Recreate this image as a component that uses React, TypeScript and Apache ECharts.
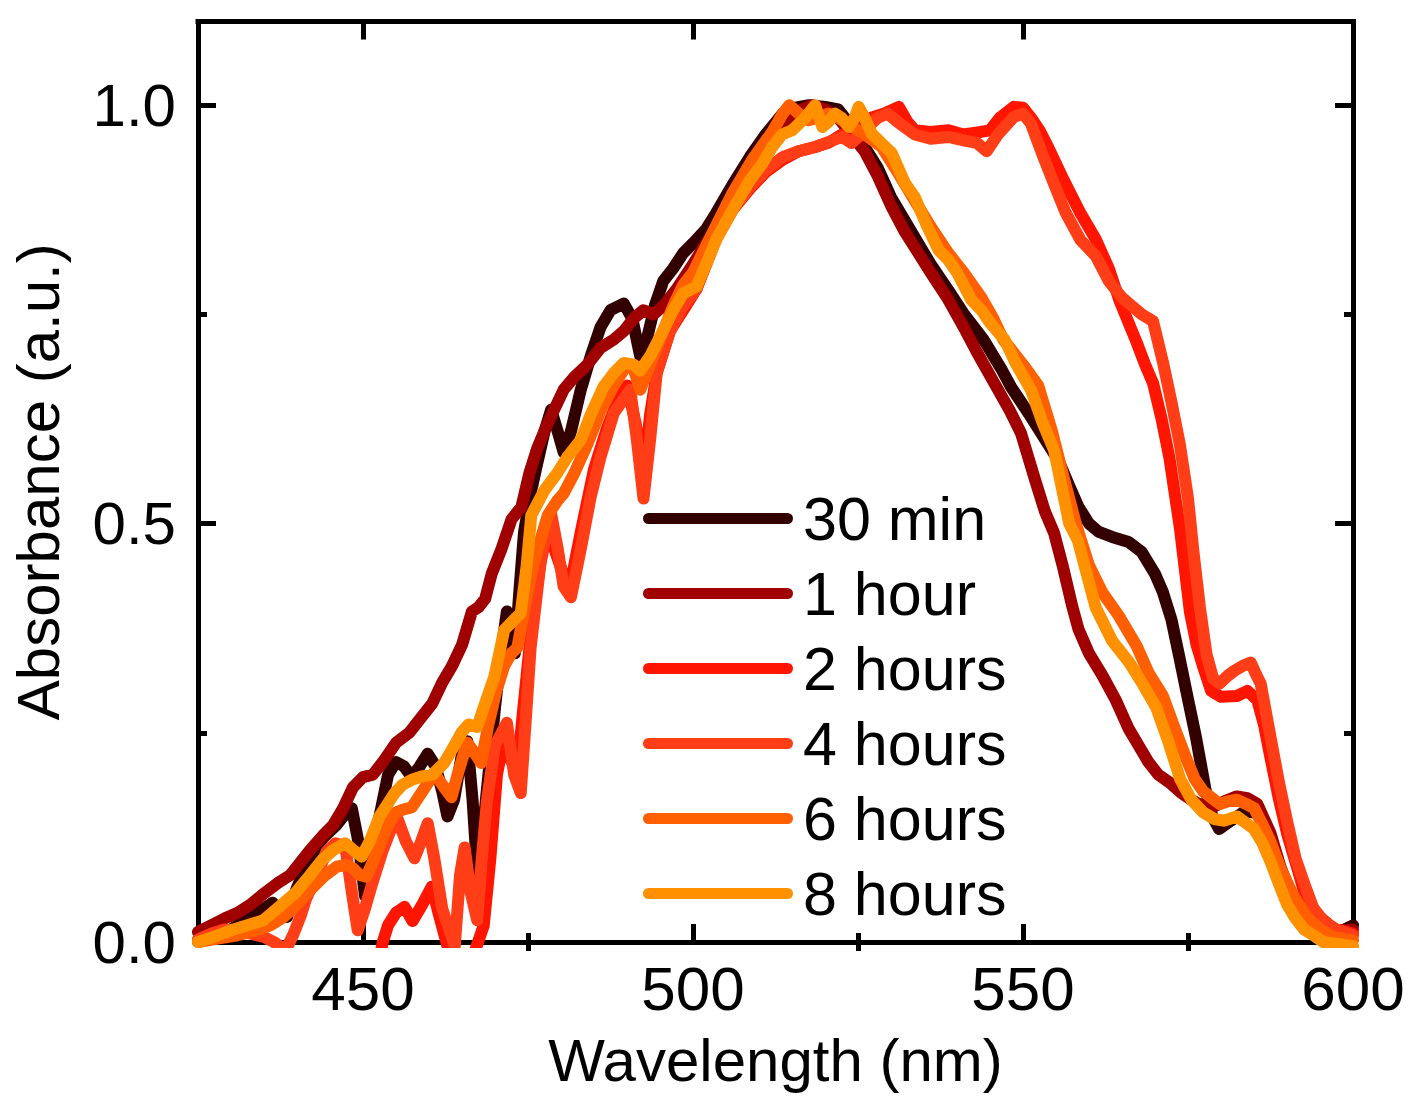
import React, { useEffect, useRef } from "react";
import * as echarts from "echarts";

const seriesNames = ["30 min", "1 hour", "2 hours", "4 hours", "6 hours", "8 hours"];
const seriesColors = ["#330000", "#A00000", "#FF1500", "#FF3D17", "#FF5F00", "#FF9100"];

const xTickValues = [450, 500, 550, 600];
const xMinorValues = [475, 525, 575];
const yTickValues = [0, 0.5, 1.0];
const yMinorValues = [0.25, 0.75];

// 30 min
const wl30 = [425, 427, 429, 431, 433, 435, 436.3, 437.5, 438.5, 440, 442, 444, 446, 447.5, 448.3, 449.3, 450.3, 451.3, 452.5, 453.8, 455, 456.2, 457.4, 458.6, 459.8, 461, 462, 462.8, 463.8, 465, 465.8, 466.6, 467.3, 468, 469, 470, 471, 471.8, 472.4, 473, 473.7, 474.4, 475.5, 476.4, 477.5, 478.5, 479.5, 480.4, 481.5, 483, 484.5, 486, 487.5, 489.5, 490.8, 492, 493, 494.2, 495.5, 497, 498.5, 500, 502, 503.5, 506, 508.6, 511, 513.6, 515.5, 517.6, 520, 522, 524, 526, 528, 530, 533, 536, 539, 541, 544, 546.7, 548.2, 551, 553, 555.4, 557, 558.4, 560, 561.5, 563.5, 566, 568, 570, 571.2, 572.5, 573.6, 575, 576.2, 577.7, 578.7, 579.7, 581.5, 583.4, 585, 586, 587, 588, 590, 592, 594, 596, 598, 600];
const abs30 = [0.0, 0.005, 0.01, 0.02, 0.03, 0.04, 0.047, 0.035, 0.03, 0.065, 0.1, 0.125, 0.14, 0.155, 0.16, 0.12, 0.055, 0.09, 0.15, 0.2, 0.215, 0.21, 0.197, 0.21, 0.225, 0.21, 0.18, 0.15, 0.17, 0.225, 0.24, 0.17, 0.085, 0.12, 0.2, 0.28, 0.35, 0.395, 0.38, 0.345, 0.42, 0.49, 0.54, 0.572, 0.61, 0.636, 0.61, 0.585, 0.61, 0.66, 0.7, 0.735, 0.755, 0.763, 0.745, 0.7, 0.72, 0.76, 0.79, 0.805, 0.823, 0.835, 0.852, 0.871, 0.905, 0.938, 0.965, 0.99, 0.997, 1.0, 0.998, 0.995, 0.975, 0.95, 0.925, 0.89, 0.85, 0.81, 0.775, 0.751, 0.72, 0.685, 0.663, 0.63, 0.605, 0.575, 0.545, 0.52, 0.5, 0.49, 0.484, 0.478, 0.466, 0.44, 0.418, 0.385, 0.344, 0.29, 0.245, 0.18, 0.15, 0.135, 0.145, 0.155, 0.155, 0.15, 0.13, 0.105, 0.06, 0.03, 0.015, 0.012, 0.012, 0.02];

// 1 hour
const wl1h = [425, 427, 429, 431, 433, 435, 437, 439, 440.5, 442, 444, 445.5, 447, 448.5, 450, 451.5, 453, 455, 457, 459, 460.5, 462, 463.5, 465, 466.5, 467.5, 468.5, 469.5, 471, 472.5, 474, 475.2, 476.4, 478, 480.4, 482, 484, 486, 488, 489.5, 491, 492.5, 494, 495.5, 497.5, 500, 502, 504, 506, 508, 510, 512, 514, 516, 518, 520, 522, 524, 526, 528, 530, 532, 534, 536, 538.5, 541, 543, 545.5, 548, 549.7, 551.8, 553.3, 554.7, 556, 557.5, 558.4, 560, 562, 564, 566, 567.2, 569, 570.5, 572.3, 574, 575.5, 577.3, 579, 580.5, 582.4, 584, 585.5, 587.5, 589, 591, 593, 595, 597, 600];
const abs1h = [0.012, 0.02, 0.028, 0.035, 0.045, 0.058, 0.07, 0.08, 0.095, 0.11, 0.128, 0.14, 0.16, 0.185, 0.197, 0.2, 0.215, 0.238, 0.25, 0.27, 0.285, 0.31, 0.33, 0.355, 0.395, 0.4, 0.41, 0.44, 0.47, 0.505, 0.52, 0.56, 0.59, 0.62, 0.66, 0.675, 0.69, 0.71, 0.72, 0.73, 0.745, 0.755, 0.75, 0.76, 0.78, 0.81, 0.835, 0.86, 0.885, 0.91, 0.935, 0.96, 0.98, 0.993, 1.0, 0.995, 0.985, 0.965, 0.945, 0.915, 0.88, 0.85, 0.825, 0.8, 0.77, 0.735, 0.705, 0.67, 0.635, 0.608, 0.553, 0.515, 0.489, 0.45, 0.4, 0.374, 0.345, 0.319, 0.29, 0.255, 0.239, 0.215, 0.2, 0.19, 0.178, 0.17, 0.162, 0.162, 0.168, 0.174, 0.172, 0.165, 0.13, 0.09, 0.05, 0.025, 0.015, 0.014, 0.015];

// 2 hours
const wl2h = [425, 445, 452, 453, 453.8, 455, 456.3, 457.5, 459, 460.4, 461.6, 462.8, 464, 465.5, 467, 468.3, 469.3, 470.3, 471.3, 472.3, 473.3, 474.3, 475.5, 476.8, 477.9, 479, 480.3, 481.5, 483, 485, 487, 488.5, 490, 491.3, 492.5, 493.5, 494.5, 496.5, 498.5, 500.5, 502, 503.5, 506, 508.6, 511, 513.6, 516, 518.5, 520.5, 522.6, 524, 525.5, 527, 529, 531.2, 532.5, 533.6, 536, 538.7, 541, 543.6, 545, 546.5, 548.6, 550, 551.2, 552.5, 553.8, 556.2, 558.7, 561, 563, 564.6, 566, 567.2, 568.5, 569.7, 571, 572.2, 573.8, 575.3, 576.3, 577.3, 578.5, 580, 582.4, 584, 585.5, 586.5, 587.5, 588.8, 590, 591.5, 592.6, 594, 595, 597, 600];
const abs2h = [-0.05, -0.05, -0.04, 0.0, 0.02, 0.035, 0.042, 0.025, 0.045, 0.066, 0.03, -0.005, -0.04, -0.04, -0.01, 0.02, 0.1, 0.2, 0.24, 0.22, 0.2, 0.28, 0.373, 0.45, 0.49, 0.47, 0.44, 0.43, 0.49, 0.565, 0.615, 0.645, 0.665, 0.62, 0.56, 0.63, 0.68, 0.73, 0.755, 0.78, 0.81, 0.84, 0.875, 0.9, 0.92, 0.935, 0.945, 0.95, 0.955, 0.965, 0.958, 0.975, 0.985, 0.99, 0.998, 0.98, 0.97, 0.968, 0.97, 0.965, 0.968, 0.97, 0.985, 0.998, 0.997, 0.985, 0.97, 0.95, 0.91, 0.871, 0.84, 0.805, 0.767, 0.74, 0.717, 0.69, 0.668, 0.625, 0.578, 0.493, 0.394, 0.355, 0.329, 0.3, 0.293, 0.294, 0.3, 0.289, 0.26, 0.22, 0.17, 0.13, 0.09, 0.06, 0.04, 0.03, 0.016, 0.01];

// 4 hours
const wl4h = [425, 427, 429, 431, 433, 435, 436.5, 438.3, 439.5, 440.5, 441.3, 443, 444.5, 445.8, 447.3, 448.3, 449.2, 450.3, 451.4, 453, 454.5, 455.3, 456.5, 457.8, 458.8, 459.8, 460.8, 462, 463.9, 464.7, 465.4, 466.3, 467.3, 468, 468.8, 470, 471.8, 472.9, 473.9, 474.7, 475.4, 477, 478.5, 479.5, 480.4, 481.5, 483, 484.5, 486, 488, 490.5, 491.5, 492.5, 493.5, 494.5, 496.5, 498.5, 500.5, 503.5, 506, 508.6, 511, 513.6, 516, 518.5, 520.5, 522.6, 524, 525.5, 526.6, 528, 529.5, 531, 533.6, 536, 538.7, 541, 543, 544.5, 546.2, 548.6, 550, 551.2, 553, 554.5, 556.5, 558.7, 561, 563, 565, 566.5, 568, 569.7, 571.2, 572.5, 573.8, 575, 575.8, 576.8, 577.8, 578.8, 579.8, 581, 582, 583.3, 584.5, 585.3, 586, 587.5, 588.8, 590, 591.3, 592.6, 594, 595.5, 597.5, 600];
const abs4h = [0.003, 0.01, 0.015, 0.012, 0.01, 0.006, 0.0, -0.01, 0.01, 0.03, 0.05, 0.08, 0.108, 0.118, 0.115, 0.06, 0.014, 0.04, 0.07, 0.11, 0.14, 0.146, 0.12, 0.1, 0.12, 0.142, 0.1, 0.04, -0.005, 0.08, 0.113, 0.06, 0.026, 0.1, 0.17, 0.235, 0.262, 0.2, 0.178, 0.27, 0.352, 0.46, 0.512, 0.47, 0.425, 0.412, 0.47, 0.532, 0.58, 0.632, 0.66, 0.6, 0.53, 0.6, 0.68, 0.73, 0.76, 0.78, 0.842, 0.875, 0.902, 0.922, 0.938, 0.945, 0.95, 0.956, 0.962, 0.955, 0.965, 0.975, 0.985, 0.99, 0.98, 0.965, 0.96, 0.962, 0.958, 0.955, 0.945, 0.965, 0.986, 0.99, 0.978, 0.94, 0.91, 0.871, 0.839, 0.82, 0.79, 0.77, 0.76, 0.75, 0.742, 0.693, 0.645, 0.593, 0.53, 0.468, 0.4, 0.344, 0.315, 0.309, 0.318, 0.324, 0.33, 0.334, 0.32, 0.309, 0.245, 0.19, 0.145, 0.1, 0.07, 0.04, 0.025, 0.015, 0.008];

// 6 hours
const wl6h = [425, 428, 431, 434, 436, 438, 440, 442, 444, 446, 447.5, 448.5, 449.5, 450.5, 452, 453.5, 454.8, 456, 457.4, 459, 460.8, 462, 463.4, 464.5, 465.8, 467, 467.9, 469, 470.2, 471.4, 472.5, 473.4, 474.5, 475.5, 476.5, 478, 479.5, 480.4, 482, 484, 486, 488, 490, 491, 492, 493.5, 495.5, 497, 498.5, 500, 503, 506, 509, 512, 513.6, 514.6, 516, 517.5, 519, 520.5, 522, 524, 526, 528.6, 531, 533.6, 536, 538.7, 541, 543.7, 545.5, 547, 550, 552.3, 554.4, 556, 558, 560, 562, 564.5, 567.2, 569, 571.2, 573, 574.7, 576, 577.3, 579.8, 581, 582.4, 583.8, 585, 586.3, 587.5, 589, 591, 593, 595, 597, 600];
const abs6h = [0.0, 0.004, 0.008, 0.014, 0.02, 0.03, 0.045, 0.062, 0.078, 0.09, 0.092, 0.088, 0.08, 0.078, 0.105, 0.135, 0.154, 0.158, 0.161, 0.18, 0.202, 0.188, 0.173, 0.205, 0.238, 0.225, 0.214, 0.26, 0.3, 0.33, 0.345, 0.352, 0.4, 0.44, 0.47, 0.51, 0.528, 0.536, 0.56, 0.595, 0.635, 0.665, 0.69, 0.685, 0.66, 0.69, 0.73, 0.76, 0.785, 0.8, 0.848, 0.895, 0.935, 0.968, 0.99, 1.0, 0.99, 0.982, 0.985, 0.99, 0.985, 0.975, 0.965, 0.95, 0.92, 0.886, 0.855, 0.823, 0.8, 0.77, 0.745, 0.72, 0.69, 0.665, 0.61, 0.56, 0.5, 0.45, 0.418, 0.39, 0.354, 0.322, 0.294, 0.255, 0.22, 0.195, 0.18, 0.165, 0.168, 0.17, 0.165, 0.16, 0.14, 0.12, 0.088, 0.055, 0.03, 0.015, 0.006, 0.002];

// 8 hours
const wl8h = [425, 427, 430, 432.5, 434.9, 437, 439.8, 442, 443.8, 445.5, 447.3, 448.5, 449.8, 451, 452.5, 454.8, 456, 457.4, 459, 460.5, 462.3, 463.5, 464.9, 466, 467.3, 468.5, 469.9, 471.4, 472.9, 473.9, 474.8, 475.5, 477.5, 479.4, 481, 483, 484.5, 486.4, 488, 489.5, 491, 492, 493.5, 495.5, 497, 498.5, 500.5, 502, 503.5, 506, 508.6, 510.5, 512, 513.5, 515, 517, 518.5, 519.6, 520.5, 521.5, 522.5, 523.6, 524.5, 525.1, 526, 527.1, 528.5, 530.1, 532.1, 533.6, 535.5, 537.2, 538.7, 540, 542.2, 543.7, 545, 547.2, 549, 551.2, 553, 554.7, 555.7, 557, 558.3, 561, 563.5, 566.1, 568, 570.2, 572, 573.8, 575.5, 577.3, 579, 580.4, 582.4, 583.8, 585, 586.3, 587.5, 589, 590, 591.3, 592.6, 594, 595.5, 600];
const abs8h = [0.0, 0.005, 0.014, 0.02, 0.026, 0.04, 0.059, 0.08, 0.098, 0.11, 0.118, 0.11, 0.102, 0.12, 0.15, 0.178, 0.188, 0.194, 0.198, 0.2, 0.214, 0.23, 0.25, 0.26, 0.257, 0.285, 0.317, 0.373, 0.385, 0.393, 0.45, 0.51, 0.54, 0.56, 0.58, 0.6, 0.63, 0.663, 0.68, 0.692, 0.69, 0.683, 0.7, 0.731, 0.755, 0.775, 0.783, 0.81, 0.839, 0.875, 0.91, 0.93, 0.95, 0.965, 0.97, 0.985, 1.0, 0.974, 0.98, 0.99, 0.985, 0.974, 0.985, 0.998, 0.985, 0.966, 0.955, 0.943, 0.907, 0.89, 0.855, 0.827, 0.815, 0.8, 0.767, 0.755, 0.74, 0.72, 0.69, 0.66, 0.62, 0.588, 0.55, 0.5, 0.48, 0.4, 0.36, 0.334, 0.31, 0.28, 0.24, 0.195, 0.17, 0.155, 0.147, 0.145, 0.15, 0.142, 0.135, 0.118, 0.096, 0.065, 0.045, 0.028, 0.015, 0.008, 0.0, -0.005];

const wavelengths = [wl30, wl1h, wl2h, wl4h, wl6h, wl8h];
const absorbances = [abs30, abs1h, abs2h, abs4h, abs6h, abs8h];

const FONT = "'Liberation Sans', Arial, Helvetica, sans-serif";
const AXIS_LINE = { show: true, onZero: false, lineStyle: { color: "#000", width: 5, cap: "square" } };
const TICK_STYLE = { color: "#000", width: 5 };

function zip(xs: number[], ys: number[]) {
  return xs.map((x, i) => [x, ys[i]]);
}

export default function App() {
  const ref = useRef<HTMLDivElement>(null);

  useEffect(() => {
    document.body.style.margin = "0";
    if (!ref.current) return;
    const chart = echarts.init(ref.current, undefined, { renderer: "svg" });

    const xBase = { type: "value", min: 425, max: 600, gridIndex: 0, splitLine: { show: false } };
    const yBase = { type: "value", min: 0, max: 1.1, gridIndex: 0, splitLine: { show: false } };

    const option: any = {
      animation: false,
      backgroundColor: "#fff",
      grid: { left: 193.5, right: 64, top: 21.5, bottom: 159, containLabel: false },
      legend: {
        orient: "vertical",
        left: 643,
        top: 488,
        padding: 0,
        itemWidth: 150,
        itemHeight: 11,
        itemGap: 14,
        selectedMode: false,
        icon: "path://M5.5,0 L144.5,0 A5.5,5.5 0 0 1 144.5,11 L5.5,11 A5.5,5.5 0 0 1 5.5,0 Z",
        itemStyle: { borderWidth: 0 },
        textStyle: { fontSize: 61, lineHeight: 60, color: "#000", fontFamily: FONT, padding: [0, 0, 0, 5] },
        data: seriesNames,
      },
      xAxis: [
        {
          ...xBase,
          position: "bottom",
          axisLine: AXIS_LINE,
          axisTick: { show: true, inside: true, length: 18, customValues: xTickValues, lineStyle: TICK_STYLE },
          axisLabel: {
            show: true,
            customValues: xTickValues,
            margin: 15,
            fontSize: 62,
            lineHeight: 62,
            color: "#000",
            fontFamily: FONT,
            formatter: (v: number) => String(v),
          },
          name: "Wavelength (nm)",
          nameLocation: "middle",
          nameGap: 88,
          nameTextStyle: { fontSize: 60, lineHeight: 60, color: "#000", fontFamily: FONT },
        },
        {
          ...xBase,
          position: "top",
          axisLine: AXIS_LINE,
          axisTick: { show: true, inside: true, length: 18, customValues: xTickValues, lineStyle: TICK_STYLE },
          axisLabel: { show: false },
        },
        {
          ...xBase,
          position: "bottom",
          axisLine: { show: false },
          axisTick: { show: true, inside: true, length: 9, customValues: xMinorValues, lineStyle: TICK_STYLE },
          axisLabel: { show: false },
        },
        {
          ...xBase,
          position: "top",
          axisLine: { show: false },
          axisTick: { show: true, inside: true, length: 9, customValues: xMinorValues, lineStyle: TICK_STYLE },
          axisLabel: { show: false },
        },
      ],
      yAxis: [
        {
          ...yBase,
          position: "left",
          axisLine: AXIS_LINE,
          axisTick: { show: true, inside: true, length: 18, customValues: yTickValues, lineStyle: TICK_STYLE },
          axisLabel: {
            show: true,
            customValues: yTickValues,
            margin: 22,
            fontSize: 60,
            color: "#000",
            fontFamily: FONT,
            formatter: (v: number) => v.toFixed(1),
          },
          name: "Absorbance (a.u.)",
          nameLocation: "middle",
          nameGap: 130,
          nameTextStyle: { fontSize: 60, lineHeight: 60, color: "#000", fontFamily: FONT },
        },
        {
          ...yBase,
          position: "right",
          axisLine: AXIS_LINE,
          axisTick: { show: true, inside: true, length: 18, customValues: yTickValues, lineStyle: TICK_STYLE },
          axisLabel: { show: false },
        },
        {
          ...yBase,
          position: "left",
          axisLine: { show: false },
          axisTick: { show: true, inside: true, length: 9, customValues: yMinorValues, lineStyle: TICK_STYLE },
          axisLabel: { show: false },
        },
        {
          ...yBase,
          position: "right",
          axisLine: { show: false },
          axisTick: { show: true, inside: true, length: 9, customValues: yMinorValues, lineStyle: TICK_STYLE },
          axisLabel: { show: false },
        },
      ],
      series: seriesNames.map((name, i) => ({
        type: "line",
        name,
        xAxisIndex: 0,
        yAxisIndex: 0,
        data: zip(wavelengths[i], absorbances[i]),
        showSymbol: false,
        symbol: "none",
        clip: true,
        color: seriesColors[i],
        itemStyle: { color: seriesColors[i] },
        lineStyle: { color: seriesColors[i], width: 12, cap: "round", join: "round" },
        emphasis: { disabled: true },
        z: 2 + i,
      })),
    };

    chart.setOption(option);
    return () => {
      chart.dispose();
    };
  }, []);

  return <div ref={ref} style={{ width: 1417, height: 1101 }} />;
}
